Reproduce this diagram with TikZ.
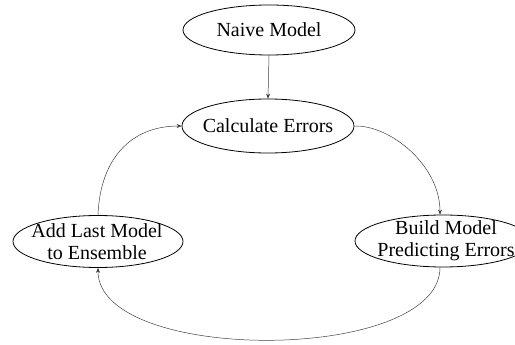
\documentclass[tikz,border=0pt]{standalone}
\usepackage{fontspec}
\setmainfont{Liberation Serif}
\usetikzlibrary{shapes.geometric,arrows.meta}
\begin{document}
\begin{tikzpicture}[x=1pt,y=-1pt,
  ell/.style={ellipse, draw=black, line width=0.8pt, inner sep=0pt},
  txt/.style={font=\fontsize{20}{22}\selectfont, align=center, inner sep=0pt, text=black},
  conn/.style={draw=black!75, line width=0.5pt, -{Stealth[length=5pt,width=4pt,fill=black]}}]
\useasboundingbox (0,0) rectangle (515,345);
\node[ell, minimum width=172pt, minimum height=50pt] (naive) at (269,30) {};
\node[txt] at (naive) {Naive Model};
\node[ell, minimum width=172pt, minimum height=54pt] (calc) at (268,126) {};
\node[txt] at (calc) {Calculate Errors};
\node[ell, minimum width=176pt, minimum height=52pt] (build) at (443,241) {};
\node[txt] at ([xshift=3pt]build.center) {Build Model\\Predicting Errors};
\node[ell, minimum width=170pt, minimum height=52pt] (add) at (98,241.5) {};
\node[txt] at ([xshift=-1pt]add.center) {Add Last Model\\to Ensemble};
\draw[conn] (naive.south) -- (calc.north);
\draw[conn] (calc.east) .. controls (390,125) and (440,165) .. ([xshift=-3pt]build.north);
\draw[conn] ([xshift=-3pt]build.south) .. controls (440,364) and (98,364) .. (add.south);
\draw[conn] (add.north) .. controls (100,160) and (130,126) .. (calc.west);
\end{tikzpicture}
\end{document}
